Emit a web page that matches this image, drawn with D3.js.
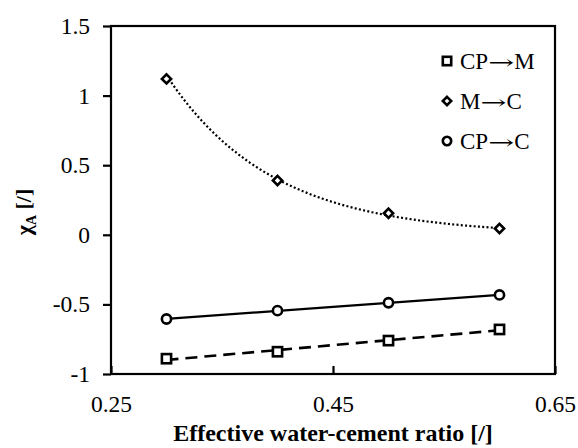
<!DOCTYPE html>
<html>
<head>
<meta charset="utf-8">
<script src="https://cdn.jsdelivr.net/npm/d3@7"></script>
<style>
  body { margin: 0; background: #fff; }
</style>
</head>
<body>
<svg id="chart" width="578" height="448"></svg>
<script>
// data
var ratios = [0.3, 0.4, 0.5, 0.6];
var cpToM = [-0.89, -0.84, -0.76, -0.68];
var mToC  = [1.12, 0.39, 0.155, 0.045];
var cpToC = [-0.605, -0.545, -0.488, -0.432];
var xTicks = [0.25, 0.45, 0.65];
var yTicks = [-1, -0.5, 0, 0.5, 1, 1.5];
var seriesFrom = ["CP", "M", "CP"];
var seriesTo = ["M", "C", "C"];

var serif = "'Liberation Serif', 'Times New Roman', Times, serif";

var margin = {top: 26, right: 23, bottom: 74, left: 111};
var width = 578 - margin.left - margin.right;
var height = 448 - margin.top - margin.bottom;

var svg = d3.select("#chart");
var g = svg.append("g").attr("transform", "translate(" + margin.left + "," + margin.top + ")");

var x = d3.scaleLinear().domain([0.25, 0.65]).range([0, width]);
var y = d3.scaleLinear().domain([-1, 1.5]).range([height, 0]);

// trend lines fitted from the points (like the spreadsheet does)
function linFit(xs, ys) {
  var n = xs.length, mx = d3.mean(xs), my = d3.mean(ys);
  var sxy = 0, sxx = 0;
  for (var i = 0; i < n; i++) { sxy += (xs[i]-mx)*(ys[i]-my); sxx += (xs[i]-mx)*(xs[i]-mx); }
  var b = sxy / sxx;
  return function(v) { return my + b * (v - mx); };
}
function expFit(xs, ys) {
  var f = linFit(xs, ys.map(Math.log));
  return function(v) { return Math.exp(f(v)); };
}

var line = d3.line().x(function(d) { return x(d[0]); }).y(function(d) { return y(d[1]); });

function trend(fn, n) {
  var pts = [];
  var x0 = ratios[0], x1 = ratios[ratios.length - 1];
  for (var i = 0; i <= n; i++) { var v = x0 + (x1 - x0) * i / n; pts.push([v, fn(v)]); }
  return pts;
}

g.append("path").attr("d", line(trend(expFit(ratios, mToC), 60)))
  .attr("fill", "none").attr("stroke", "#000").attr("stroke-width", 2.2)
  .attr("stroke-dasharray", "2,2.3");
g.append("path").attr("d", line(trend(linFit(ratios, cpToC), 2)))
  .attr("fill", "none").attr("stroke", "#000").attr("stroke-width", 2.2);
g.append("path").attr("d", line(trend(linFit(ratios, cpToM), 2)))
  .attr("fill", "none").attr("stroke", "#000").attr("stroke-width", 2.6)
  .attr("stroke-dasharray", "12,7");

// frame
g.append("rect").attr("width", width).attr("height", height)
  .attr("fill", "none").attr("stroke", "#000").attr("stroke-width", 2.2);

// y axis
var yAxis = g.append("g").call(d3.axisLeft(y).tickValues(yTicks).tickSize(8).tickPadding(13)
  .tickFormat(function(d) { return String(d); }));
yAxis.attr("font-family", null).attr("font-size", null);
yAxis.select(".domain").remove();
yAxis.selectAll("line").attr("stroke-width", 2.2);
yAxis.selectAll("text").style("font-size", "23.5px").style("font-family", serif);

// x axis, ticks point inward
var xAxis = g.append("g").attr("transform", "translate(0," + height + ")")
  .call(d3.axisTop(x).tickValues(xTicks).tickSize(8).tickFormat(d3.format(".2f")));
xAxis.attr("font-family", null).attr("font-size", null);
xAxis.select(".domain").remove();
xAxis.selectAll("line").attr("stroke-width", 2.2);
xAxis.selectAll("text").attr("y", 38).attr("dy", 0).style("font-size", "23.5px").style("font-family", serif);

// markers
function marker(sel, kind, s) {
  if (kind === 0) {
    sel.append("rect").attr("x", -s).attr("y", -s).attr("width", 2 * s).attr("height", 2 * s);
  } else if (kind === 1) {
    sel.append("path").attr("d", "M0,-" + s + "L" + s + ",0L0," + s + "L-" + s + ",0Z");
  } else {
    sel.append("circle").attr("r", s);
  }
  sel.selectAll("*").attr("fill", "#fff").attr("stroke", "#000").attr("stroke-width", 2.6);
}

[cpToM, mToC, cpToC].forEach(function(vals, k) {
  g.selectAll(".m" + k).data(vals).enter().append("g")
    .attr("class", "m" + k)
    .attr("transform", function(d, i) { return "translate(" + x(ratios[i]) + "," + y(d) + ")"; })
    .each(function() { marker(d3.select(this), k, 4.6); });
});

// legend
var legend = g.selectAll(".legend").data(seriesFrom).enter().append("g")
  .attr("class", "legend")
  .attr("transform", function(d, i) { return "translate(" + (447 - margin.left) + "," + (61 + i * 40 - margin.top) + ")"; });
legend.each(function(d, i) { marker(d3.select(this), i, 4.2); });
var lt = legend.append("text").attr("x", 13).attr("dy", "0.35em")
  .style("font-size", "23px").style("font-family", serif);
lt.append("tspan").text(function(d) { return d; });
lt.append("tspan").attr("textLength", 26).attr("lengthAdjust", "spacingAndGlyphs")
  .style("font-family", "'DejaVu Serif', serif").style("font-size", "19px").text("\u2192");
lt.append("tspan").text(function(d, i) { return seriesTo[i]; });

// axis titles
svg.append("text").attr("x", margin.left + width / 2).attr("y", 441)
  .attr("text-anchor", "middle").style("font-size", "24px").style("font-weight", "bold")
  .style("font-family", serif)
  .text("Effective water-cement ratio [/]");

var yt = svg.append("text").attr("transform", "translate(31,212) rotate(-90)")
  .attr("text-anchor", "middle").style("font-size", "22px").style("font-weight", "bold")
  .style("font-family", serif);
yt.append("tspan").text("\u03C7");
yt.append("tspan").attr("dy", 5).style("font-size", "14px").text("A");
yt.append("tspan").attr("dy", -5).text(" [/]");
</script>
</body>
</html>
